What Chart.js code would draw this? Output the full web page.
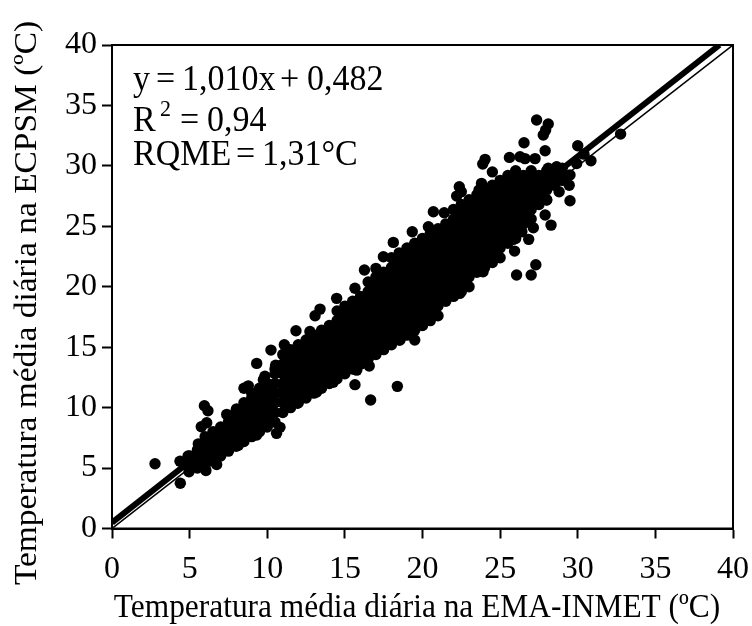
<!DOCTYPE html>
<html lang="pt">
<head>
<meta charset="utf-8">
<title>Temperatura média diária</title>
<script src="https://cdn.jsdelivr.net/npm/chart.js@4"></script>
<style>
  html, body { margin: 0; padding: 0; background: #fff; }
  canvas { display: block; }
</style>
</head>
<body>
<canvas id="grafico" width="752" height="626"></canvas>
<script>
// Marcas dos eixos
const xTicks = [0, 5, 10, 15, 20, 25, 30, 35, 40];
const yTicks = [0, 5, 10, 15, 20, 25, 30, 35, 40];

// Retas: ajuste (grossa) e 1:1 (fina)
const ajusteX = [0, 39.13];
const ajusteY = [0.482, 40];
const identidadeX = [0, 40];
const identidadeY = [0, 40];

// Pontos isolados [EMA, ECPSM]
const pontosIsolados = [
  [2.77,5.36],[4.4,3.74],[4.38,5.56],[4.9,6.0],[4.96,4.7],[6.05,4.8],[6.74,5.3],[5.56,7.0],[5.95,10.16],[6.18,9.74],
  [5.75,8.42],[6.1,8.75],[7.39,9.44],[8.03,9.9],[8.5,11.6],[8.78,11.8],[9.32,13.66],[9.85,12.6],[9.75,12.3],[10.24,14.76],
  [10.54,13.5],[11.1,15.2],[11.85,16.36],[12.75,16.3],[13.08,17.6],[13.4,18.15],[14.47,19.04],[10.6,7.87],[10.82,8.37],[9.32,7.73],
  [8.14,6.9],[11.94,10.36],[13.18,11.3],[14.25,12.1],[15.65,11.9],[16.66,10.63],[18.38,11.76],[16.57,13.44],[15.76,13.1],[15.97,13.94],
  [17.85,15.45],[18.55,15.6],[19.5,15.6],[19.5,17],[16.8,14.5],[32.76,32.63],[30.85,30.42],[30.0,31.66],[30.4,30.97],[29.5,27.11],
  [29.45,28.4],[28.8,27.86],[28.28,25.1],[27.14,24.88],[26.84,23.92],[25.93,22.95],[27.3,21.82],[27.0,20.97],[26.06,20.97],[27.35,33.79],
  [28.1,33.46],[27.93,32.96],[27.78,32.55],[26.54,31.91],[27.9,31.25],[24.03,30.54],[23.88,30.15],[25.6,30.7],[26.28,30.75],[27.25,30.6],
  [26.6,30.6],[24.5,29.5],[22.37,28.27],[22.5,27.86],[22.2,27.5],[20.7,26.2],[21.4,26.12],[19.34,24.55],[20.38,24.96],[23.8,28.55],
  [23.64,28.0],[22.4,19.45],[21.66,19.3],[23.9,21.24],[22.95,20.83],[24.35,22.62],[28,27.17],[27.9,25.93],[26.4,24.55],[25.85,23.92],
  [29.93,30.2],[29.5,29.24],[28.64,29.93],[28.1,29.8],[18.12,23.67],[17.48,22.48],[16.26,21.38],[17.0,21.52],[15.65,19.87],[16.83,20.28]
];

// Faixa densa, estimada por coluna: [EMA, ECPSM, ECPSM, ...]
const faixaDensa = [
  [5.0,4.9,5.6,6.0],
  [5.5,5.0,5.8,6.5],
  [6.0,5.2,6.0,6.8,7.6],
  [6.5,5.6,6.4,7.2,8.0],
  [7.0,6.0,6.8,7.6,8.4],
  [7.5,6.4,7.2,8.0,8.8],
  [8.0,6.8,7.6,8.4,9.2,9.8],
  [8.5,7.2,8.0,8.8,9.6,10.4],
  [9.0,7.6,8.4,9.2,10.0,10.8,11.2],
  [9.5,8.0,8.8,9.6,10.4,11.2,11.6],
  [10.0,8.4,9.2,10.0,10.8,11.6,12.0],
  [10.5,8.8,9.6,10.4,11.2,12.0,12.8,13.2],
  [11.0,9.6,10.4,11.2,12.0,12.8,13.6,14.4],
  [11.5,10.0,10.8,11.6,12.4,13.2,14.0,14.8],
  [12.0,10.4,11.2,12.0,12.8,13.6,14.4,15.2],
  [12.5,10.8,11.6,12.4,13.2,14.0,14.8,15.6],
  [13.0,11.2,12.0,12.8,13.6,14.4,15.2,16.0],
  [13.5,11.6,12.4,13.2,14.0,14.8,15.6,16.4],
  [14.0,12.0,12.8,13.6,14.4,15.2,16.0,16.8],
  [14.5,12.4,13.2,14.0,14.8,15.6,16.4,17.2,18.0],
  [15.0,12.8,13.6,14.4,15.2,16.0,16.8,17.6,18.4],
  [15.5,13.2,14.0,14.8,15.6,16.4,17.2,18.0,18.8],
  [16.0,13.6,14.4,15.2,16.0,16.8,17.6,18.4,19.2],
  [16.5,14.0,14.8,15.6,16.4,17.2,18.0,18.8,19.6,20.4],
  [17.0,14.4,15.2,16.0,16.8,17.6,18.4,19.2,20.0,20.8],
  [17.5,14.8,15.6,16.4,17.2,18.0,18.8,19.6,20.4,21.2],
  [18.0,15.2,16.0,16.8,17.6,18.4,19.2,20.0,20.8,21.6,22.4],
  [18.5,15.6,16.4,17.2,18.0,18.8,19.6,20.4,21.2,22.0,22.8],
  [19.0,16.0,16.8,17.6,18.4,19.2,20.0,20.8,21.6,22.4,23.2],
  [19.5,16.4,17.2,18.0,18.8,19.6,20.4,21.2,22.0,22.8,23.6],
  [20.0,16.8,17.6,18.4,19.2,20.0,20.8,21.6,22.4,23.2,24.0],
  [20.5,17.2,18.0,18.8,19.6,20.4,21.2,22.0,22.8,23.6,24.4],
  [21.0,17.6,18.4,19.2,20.0,20.8,21.6,22.4,23.2,24.0,24.8],
  [21.5,18.8,19.6,20.4,21.2,22.0,22.8,23.6,24.4,25.2],
  [22.0,19.2,20.0,20.8,21.6,22.4,23.2,24.0,24.8,25.6,26.4],
  [22.5,19.6,20.4,21.2,22.0,22.8,23.6,24.4,25.2,26.0,26.8],
  [23.0,20.0,20.8,21.6,22.4,23.2,24.0,24.8,25.6,26.4,27.2],
  [23.5,21.2,22.0,22.8,23.6,24.4,25.2,26.0,26.8,27.6],
  [24.0,21.6,22.4,23.2,24.0,24.8,25.6,26.4,27.2,28.0],
  [24.5,22.0,22.8,23.6,24.4,25.2,26.0,26.8,27.6,28.4],
  [25.0,22.4,23.2,24.0,24.8,25.6,26.4,27.2,28.0,28.8],
  [25.5,23.6,24.4,25.2,26.0,26.8,27.6,28.4,29.2],
  [26.0,24.0,24.8,25.6,26.4,27.2,28.0,28.8,29.6],
  [26.5,25.2,26.0,26.8,27.6,28.4,29.2],
  [27.0,25.6,26.4,27.2,28.0,28.8,29.6],
  [27.5,26.8,27.6,28.4,29.2],
  [28.0,27.2,28.0,28.8,29.6],
  [28.5,28.4,29.2,29.6],
  [29.0,28.8,29.4,29.8]
];

const pontos = [
  ...pontosIsolados.map(p => ({ x: p[0], y: p[1] })),
  ...faixaDensa.flatMap(col => col.slice(1).map(y => ({ x: col[0], y })))
];

const fonte = '"Liberation Serif", "Times New Roman", serif';
const esticaY = 1.065; // a figura original esta um pouco esticada na vertical

// Textos soltos: equacao, R2, RQME e titulos dos eixos
function escreve(ctx, texto, x, y) {
  ctx.save();
  ctx.translate(x, y);
  ctx.scale(1, esticaY);
  ctx.fillText(texto, 0, 0);
  ctx.restore();
}

const textosPlugin = {
  id: 'textos',
  afterDraw(chart) {
    const ctx = chart.ctx;
    ctx.save();
    ctx.fillStyle = '#000';
    ctx.textBaseline = 'alphabetic';
    ctx.textAlign = 'left';
    ctx.font = '34px ' + fonte;
    escreve(ctx, 'y', 133, 90);
    escreve(ctx, '=', 156, 90);
    escreve(ctx, '1,010x', 182, 90);
    escreve(ctx, '+', 280, 90);
    escreve(ctx, '0,482', 307, 90);
    escreve(ctx, 'R', 133, 131);
    escreve(ctx, '=', 180, 131);
    escreve(ctx, '0,94', 207, 131);
    escreve(ctx, 'RQME', 133, 165);
    escreve(ctx, '=', 236, 165);
    escreve(ctx, '1,31°C', 262, 165);
    ctx.font = '22px ' + fonte;
    escreve(ctx, '2', 160, 116);

    ctx.textAlign = 'center';
    ctx.font = '31.4px ' + fonte;
    escreve(ctx, 'Temperatura média diária na EMA-INMET (ºC)', 417, 617);
    ctx.translate(36, 303);
    ctx.scale(1, esticaY);
    ctx.rotate(-Math.PI / 2);
    ctx.fillText('Temperatura média diária na ECPSM (ºC)', 0, 0);
    ctx.restore();
  }
};

// Moldura de cima e da direita
const molduraPlugin = {
  id: 'moldura',
  beforeDatasetsDraw(chart) {
    const { ctx, chartArea: a } = chart;
    ctx.save();
    ctx.strokeStyle = '#000';
    ctx.lineWidth = 2;
    ctx.strokeRect(a.left, a.top, a.right - a.left, a.bottom - a.top);
    ctx.restore();
  }
};

new Chart(document.getElementById('grafico'), {
  type: 'scatter',
  data: {
    datasets: [
      {
        label: 'Observado',
        data: pontos,
        backgroundColor: '#000',
        borderWidth: 0,
        pointRadius: 5.7
      },
      {
        label: 'Ajuste',
        data: ajusteX.map((x, i) => ({ x, y: ajusteY[i] })),
        showLine: true,
        borderColor: '#000',
        borderWidth: 6,
        pointRadius: 0
      },
      {
        label: '1:1',
        data: identidadeX.map((x, i) => ({ x, y: identidadeY[i] })),
        showLine: true,
        borderColor: '#000',
        borderWidth: 1.5,
        pointRadius: 0
      }
    ]
  },
  options: {
    responsive: false,
    animation: false,
    layout: { padding: { top: 45, right: 19 } },
    plugins: { legend: { display: false }, tooltip: { enabled: false } },
    scales: {
      x: {
        type: 'linear', min: 0, max: 40,
        afterBuildTicks: s => { s.ticks = xTicks.map(value => ({ value })); },
        // paddingRight zerado: o rotulo "40" nao deve encolher a area do grafico
        afterFit: s => { s.height = 97.5; s.paddingRight = 0; },
        grid: { drawOnChartArea: false, tickLength: 10, tickColor: '#000', tickWidth: 2 },
        border: { color: '#000', width: 2 },
        ticks: { color: '#000', padding: 12, maxRotation: 0, autoSkip: false, font: { family: fonte, size: 32 } }
      },
      y: {
        type: 'linear', min: 0, max: 40,
        afterBuildTicks: s => { s.ticks = yTicks.map(value => ({ value })); },
        afterFit: s => { s.width = 112; },
        grid: { drawOnChartArea: false, tickLength: 10, tickColor: '#000', tickWidth: 2 },
        border: { color: '#000', width: 2 },
        ticks: { color: '#000', padding: 5, autoSkip: false, font: { family: fonte, size: 32 } }
      },
      // marcas menores, de 1 em 1
      xMenor: {
        type: 'linear', position: 'bottom', axis: 'x', min: 0, max: 40,
        afterFit: s => { s.height = 0; },
        grid: { drawOnChartArea: false, tickLength: 5, tickColor: '#000', tickWidth: 1.5 },
        border: { display: false },
        ticks: { display: false, stepSize: 1, autoSkip: false }
      },
      yMenor: {
        type: 'linear', position: 'left', axis: 'y', min: 0, max: 40,
        afterFit: s => { s.width = 0; },
        grid: { drawOnChartArea: false, tickLength: 5, tickColor: '#000', tickWidth: 1.5 },
        border: { display: false },
        ticks: { display: false, stepSize: 1, autoSkip: false }
      }
    }
  },
  plugins: [molduraPlugin, textosPlugin]
});
</script>
</body>
</html>
